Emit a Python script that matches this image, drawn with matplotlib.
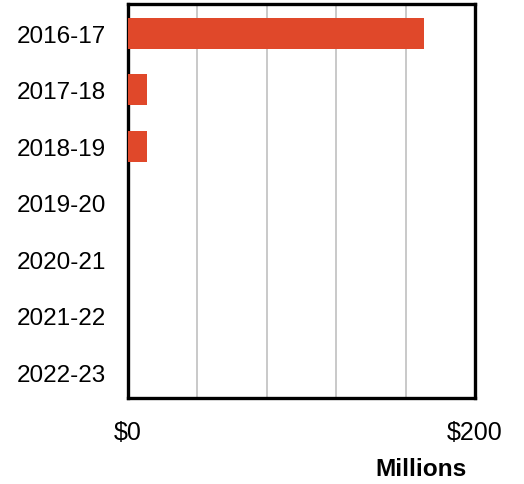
import numpy as np
import matplotlib.pyplot as plt

years = ['2016-17', '2017-18', '2018-19', '2019-20', '2020-21', '2021-22', '2022-23']
values = [170.6, 11.3, 10.9, 0, 0, 0, 0]
xticks = [0, 40, 80, 120, 160, 200]
xtick_labels = ['$0', '', '', '', '', '$200']

plt.rcParams['font.family'] = ['Liberation Sans', 'DejaVu Sans']

fig = plt.figure(figsize=(5.24, 4.85), dpi=100)
ax = fig.add_axes([127.7 / 524, 1 - 399 / 485, (475 - 127.7) / 524, (399 - 5) / 485])

pos = np.arange(len(years))
ax.barh(pos, values, height=0.55, color='#E0482A', zorder=3)

ax.set_xlim(0, 200)
ax.set_ylim(6.46, -0.52)
ax.set_xticks(xticks)
ax.set_xticklabels(xtick_labels, fontsize=18)
ax.set_yticks(pos)
ax.set_yticklabels(years, fontsize=17.5)
ax.tick_params(axis='both', length=0)
ax.tick_params(axis='x', pad=16)
ax.tick_params(axis='y', pad=15.6)
ax.grid(axis='x', color='#bbbbbb', linewidth=1.1, zorder=0)
for s in ax.spines.values():
    s.set_linewidth(2.4)
    s.set_color('black')

fig.text(420.7 / 524, 1 - 470 / 485, 'Millions', fontsize=17.6, fontweight='bold',
         ha='center', va='center')

fig.savefig('out.png', dpi=100)
